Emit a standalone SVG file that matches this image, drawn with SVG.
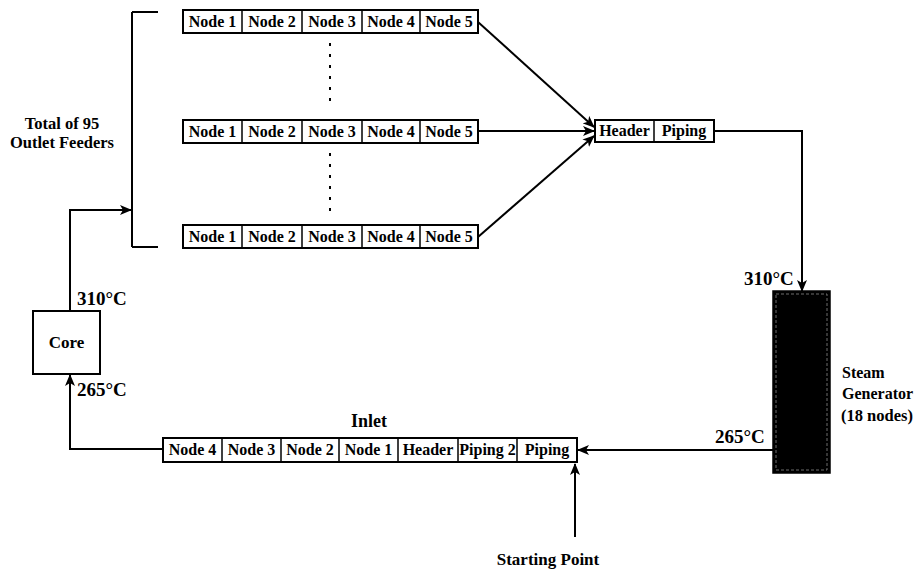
<svg xmlns="http://www.w3.org/2000/svg" width="924" height="573" viewBox="0 0 924 573">
<defs>
<marker id="ah" markerWidth="12" markerHeight="10" refX="11" refY="5" orient="auto" markerUnits="userSpaceOnUse">
<path d="M0,0 L12,5 L0,10 L3,5 Z" fill="#000"/>
</marker>
</defs>
<style>
.box{fill:#fff;stroke:#000;stroke-width:2}
.div{stroke:#000;stroke-width:1.5}
text{font-family:"Liberation Serif","DejaVu Serif",serif;font-weight:bold;fill:#000}
.t{font-size:16px;text-anchor:middle}
.c{fill:none;stroke:#000;stroke-width:2}
.dot{fill:none;stroke:#000;stroke-width:2;stroke-dasharray:3 8}
</style>
<rect width="924" height="573" fill="#fff"/>

<g id="connectors">
<polyline class="c" points="132,12 158,12"/>
<polyline class="c" points="132,12 132,247"/>
<polyline class="c" points="132,247 158,247"/>
<polyline class="c" points="70,311 70,210 131,210" marker-end="url(#ah)"/>
<line class="c" x1="478" y1="22" x2="594" y2="127" marker-end="url(#ah)"/>
<line class="c" x1="478" y1="131" x2="594" y2="131" marker-end="url(#ah)"/>
<line class="c" x1="478" y1="237" x2="594" y2="136" marker-end="url(#ah)"/>
<polyline class="c" points="714,131 802,131 802,291" marker-end="url(#ah)"/>
<line class="c" x1="773" y1="450" x2="578" y2="450" marker-end="url(#ah)"/>
<line class="c" x1="575" y1="537" x2="575" y2="464" marker-end="url(#ah)"/>
<polyline class="c" points="163,449 70,449 70,375" marker-end="url(#ah)"/>
<line class="dot" x1="330" y1="43" x2="330" y2="108"/>
<line class="dot" x1="330" y1="153" x2="330" y2="218"/>
</g>

<g id="feeder-top">
<rect class="box" x="183" y="10" width="295" height="23"/>
<line class="div" x1="242" y1="10" x2="242" y2="33"/>
<line class="div" x1="302" y1="10" x2="302" y2="33"/>
<line class="div" x1="362" y1="10" x2="362" y2="33"/>
<line class="div" x1="420" y1="10" x2="420" y2="33"/>
<text class="t" x="212.5" y="27">Node 1</text>
<text class="t" x="272" y="27">Node 2</text>
<text class="t" x="332" y="27">Node 3</text>
<text class="t" x="391" y="27">Node 4</text>
<text class="t" x="449" y="27">Node 5</text>
</g>

<g id="feeder-middle">
<rect class="box" x="183" y="120" width="295" height="23"/>
<line class="div" x1="242" y1="120" x2="242" y2="143"/>
<line class="div" x1="302" y1="120" x2="302" y2="143"/>
<line class="div" x1="362" y1="120" x2="362" y2="143"/>
<line class="div" x1="420" y1="120" x2="420" y2="143"/>
<text class="t" x="212.5" y="137">Node 1</text>
<text class="t" x="272" y="137">Node 2</text>
<text class="t" x="332" y="137">Node 3</text>
<text class="t" x="391" y="137">Node 4</text>
<text class="t" x="449" y="137">Node 5</text>
</g>

<g id="feeder-bottom">
<rect class="box" x="183" y="225" width="295" height="23"/>
<line class="div" x1="242" y1="225" x2="242" y2="248"/>
<line class="div" x1="302" y1="225" x2="302" y2="248"/>
<line class="div" x1="362" y1="225" x2="362" y2="248"/>
<line class="div" x1="420" y1="225" x2="420" y2="248"/>
<text class="t" x="212.5" y="242">Node 1</text>
<text class="t" x="272" y="242">Node 2</text>
<text class="t" x="332" y="242">Node 3</text>
<text class="t" x="391" y="242">Node 4</text>
<text class="t" x="449" y="242">Node 5</text>
</g>

<g id="feeders-label">
<text font-size="16.5" text-anchor="middle" x="62" y="129">Total of 95</text>
<text font-size="16.5" text-anchor="middle" x="62" y="148">Outlet Feeders</text>
</g>

<g id="outlet-header">
<rect class="box" x="595" y="120" width="119" height="22"/>
<line class="div" x1="654" y1="120" x2="654" y2="142"/>
<text class="t" x="624.5" y="136">Header</text>
<text class="t" x="684" y="136">Piping</text>
</g>

<g id="core">
<rect class="box" x="33" y="311" width="67" height="63"/>
<text font-size="17" text-anchor="middle" x="66.5" y="348">Core</text>
<text font-size="19" x="77" y="305">310°C</text>
<text font-size="19" x="77" y="396">265°C</text>
</g>

<g id="steam-generator">
<rect x="773" y="291" width="57" height="182" fill="#000" stroke="#000" stroke-width="1.5"/>
<rect x="776" y="294" width="51" height="176" fill="none" stroke="#888" stroke-width="0.8" stroke-dasharray="3 2"/>
<text font-size="19" x="744" y="285">310°C</text>
<text font-size="19" x="715" y="443">265°C</text>
<text font-size="16" x="842" y="378">Steam</text>
<text font-size="16" x="842" y="399">Generator</text>
<text font-size="16.5" x="841" y="421">(18 nodes)</text>
</g>

<g id="inlet">
<text font-size="18" text-anchor="middle" x="369" y="427">Inlet</text>
<rect class="box" x="163" y="438" width="414" height="24"/>
<line class="div" x1="222" y1="438" x2="222" y2="462"/>
<line class="div" x1="281" y1="438" x2="281" y2="462"/>
<line class="div" x1="339" y1="438" x2="339" y2="462"/>
<line class="div" x1="398" y1="438" x2="398" y2="462"/>
<line class="div" x1="458" y1="438" x2="458" y2="462"/>
<line class="div" x1="517" y1="438" x2="517" y2="462"/>
<text class="t" x="192.5" y="455">Node 4</text>
<text class="t" x="251.5" y="455">Node 3</text>
<text class="t" x="310" y="455">Node 2</text>
<text class="t" x="368.5" y="455">Node 1</text>
<text class="t" x="428" y="455">Header</text>
<text class="t" x="487.5" y="455">Piping 2</text>
<text class="t" x="547" y="455">Piping</text>
</g>

<g id="starting-point">
<text font-size="17" text-anchor="middle" x="548" y="565">Starting Point</text>
</g>
</svg>
